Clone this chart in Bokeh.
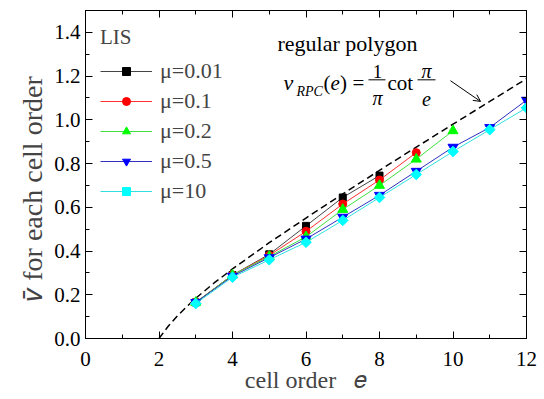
import math
from bokeh.plotting import figure
from bokeh.models import (Range1d, LinearAxis, FixedTicker, Arrow, OpenHead, Label,
                          NumeralTickFormatter, CustomJSTickFormatter)
from bokeh.embed import file_html
from bokeh.resources import INLINE

FONT = "Times New Roman"

# ---------------- data ----------------
cell_order = [3, 4, 5, 6, 7, 8, 9, 10, 11, 12]
mu_labels = ["μ=0.01", "μ=0.1", "μ=0.2", "μ=0.5", "μ=10"]
v_mu001 = [0.165, 0.29, 0.385, 0.515, 0.645, 0.745]
v_mu01 = [0.165, 0.29, 0.38, 0.49, 0.615, 0.725, 0.85]
v_mu02 = [0.165, 0.29, 0.375, 0.465, 0.59, 0.70, 0.82, 0.95]
v_mu05 = [0.165, 0.285, 0.37, 0.455, 0.555, 0.655, 0.765, 0.875, 0.965, 1.09]
v_mu10 = [0.16, 0.28, 0.36, 0.44, 0.54, 0.645, 0.75, 0.855, 0.955, 1.055]

# regular polygon curve (dashed)
rpc_e = [2, 2.25, 2.5, 2.75, 3, 3.5, 4, 5, 6, 7, 8, 9, 10, 11, 12]
rpc_v = [0.0, 0.056, 0.103, 0.145, 0.184, 0.254, 0.318, 0.438, 0.551,
         0.661, 0.769, 0.875, 0.980, 1.084, 1.188]

x_ticks = [0, 2, 4, 6, 8, 10, 12]
x_minor = list(range(0, 13))
y_ticks = [0.0, 0.2, 0.4, 0.6, 0.8, 1.0, 1.2, 1.4]
y_minor = [i / 10 for i in range(0, 16)]

x_label = "cell order\u00a0\u00a0 \U0001D452"
y_label = "\U0001D463\u0304 for each cell order" + "\u00a0" * 4

series = [v_mu001, v_mu01, v_mu02, v_mu05, v_mu10]
marker_colors = ["#000000", "#ff0000", "#00ff00", "#0000ff", "#00ffff"]
line_colors = ["#444444", "#ff3030", "#40e040", "#3030c0", "#30e0e0"]
markers = ["square", "circle", "triangle", "inverted_triangle", "square"]
msizes = [7, 8, 10, 10, 7.5]
angles = [0, 0, 0, 0, math.pi / 4]

# ---------------- figure ----------------
p = figure(width=544, height=399, x_range=Range1d(0, 12), y_range=Range1d(0, 1.5),
           output_backend="svg", toolbar_location=None,
           min_border_left=85, min_border_right=18, min_border_top=10, min_border_bottom=61)
p.grid.visible = False
p.outline_line_color = "black"
p.outline_line_width = 1
p.background_fill_color = "white"
p.border_fill_color = "white"


def style_axis(ax, ticks, minor, show_labels=True):
    ax.ticker = FixedTicker(ticks=ticks, minor_ticks=minor)
    ax.major_tick_in = 7
    ax.major_tick_out = 0
    ax.minor_tick_in = 4
    ax.minor_tick_out = 0
    ax.major_tick_line_color = "black"
    ax.minor_tick_line_color = "black"
    ax.axis_line_color = "black"
    ax.major_label_text_font = FONT
    ax.major_label_text_font_size = "21px"
    ax.major_label_text_font_style = "normal"
    ax.major_label_text_color = "black"
    if not show_labels:
        ax.formatter = CustomJSTickFormatter(code="return ''")
        ax.major_label_text_font_size = "0px"
        ax.major_label_standoff = 0


xa = p.xaxis[0]
style_axis(xa, x_ticks, x_minor)
xa.formatter = NumeralTickFormatter(format="0")
xa.major_label_standoff = 13
xa.axis_label = x_label
xa.axis_label_text_font = FONT
xa.axis_label_text_font_size = "24px"
xa.axis_label_text_font_style = "normal"
xa.axis_label_standoff = -2

ya = p.yaxis[0]
style_axis(ya, y_ticks, y_minor)
ya.formatter = NumeralTickFormatter(format="0.0")
ya.major_label_standoff = 5
ya.axis_label = y_label
ya.axis_label_text_font = FONT
ya.axis_label_text_font_size = "28px"
ya.axis_label_text_font_style = "normal"
ya.axis_label_standoff = 3

top = LinearAxis()
style_axis(top, x_ticks, x_minor, show_labels=False)
p.add_layout(top, "above")
right = LinearAxis()
style_axis(right, y_ticks, y_minor, show_labels=False)
p.add_layout(right, "right")

# dashed regular-polygon curve
p.line(rpc_e, rpc_v, line_color="black", line_width=1.5, line_dash="7 4")

for vals, lab, mc, lc, mk, ms, ang in zip(series, mu_labels, marker_colors, line_colors,
                                         markers, msizes, angles):
    xs = cell_order[:len(vals)]
    p.line(xs, vals, line_color=lc, line_width=1, legend_label=lab)
    p.scatter(xs, vals, marker=mk, size=ms, angle=ang, fill_color=mc, line_color=mc,
              legend_label=lab)

leg = p.legend[0]
leg.title = "LIS"
leg.title_text_font = FONT
leg.title_text_font_size = "21px"
leg.title_text_font_style = "normal"
leg.title_standoff = 8
leg.location = "top_left"
leg.border_line_alpha = 0
leg.background_fill_alpha = 0
leg.label_text_font = FONT
leg.label_text_font_size = "22px"
leg.label_text_font_style = "normal"
leg.glyph_width = 52
leg.glyph_height = 20
leg.label_height = 20
leg.spacing = 4
leg.label_standoff = 8
leg.margin = 9
leg.padding = 6


def lab(x, y, text, size, style="normal", align="left", baseline="alphabetic"):
    p.add_layout(Label(x=x, y=y, text=text, text_font=FONT, text_font_size=size,
                       text_font_style=style, text_align=align, text_baseline=baseline,
                       text_color="black"))


# annotation: regular polygon formula
lab(5.224, 1.349, "regular polygon", "22px")
lab(5.388, 1.170, "v", "22px", style="italic")
lab(5.741, 1.128, "RPC", "14px", style="italic")
lab(6.476, 1.170, "(", "21px")
lab(6.667, 1.170, "e", "21px", style="italic")
lab(6.925, 1.170, ")", "21px")
lab(7.265, 1.170, "=", "21px")
lab(7.946, 1.222, "1", "19px", align="center")
lab(7.946, 1.101, "π", "20px", style="italic", align="center")
lab(8.218, 1.170, "cot", "21px")
lab(9.279, 1.222, "π", "20px", style="italic", align="center")
lab(9.279, 1.096, "e", "20px", style="italic", align="center")
p.segment(x0=[7.70, 9.034], y0=[1.183, 1.183], x1=[8.163, 9.524], y1=[1.183, 1.183],
          line_color="black", line_width=1)

p.add_layout(Arrow(x_start=9.93, y_start=1.179, x_end=10.75, y_end=1.084,
                   line_color="black", line_width=1,
                   end=OpenHead(size=7, line_width=1, line_color="black")))

open("out.html", "w").write(file_html(p, INLINE))
